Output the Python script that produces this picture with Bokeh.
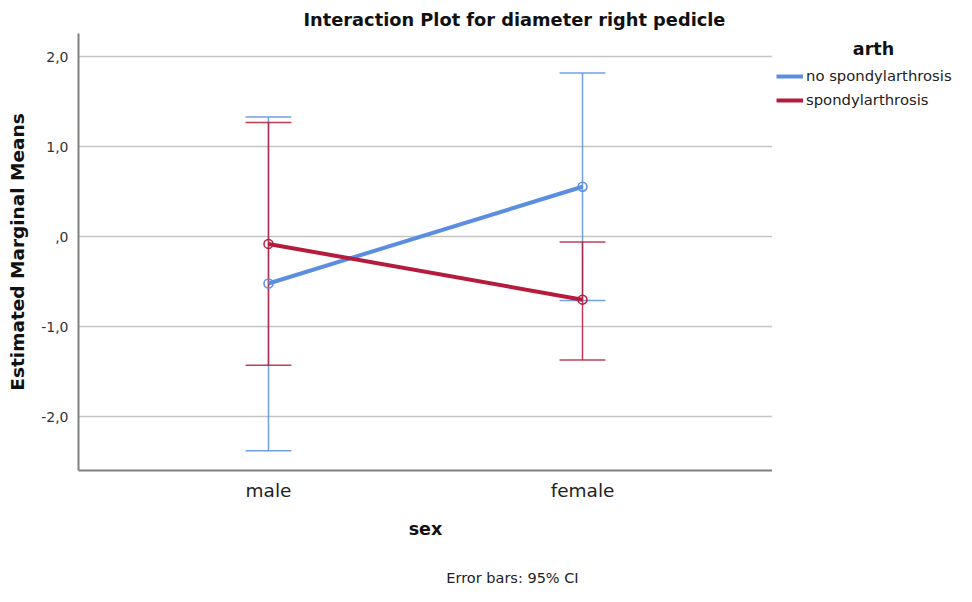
from bokeh.plotting import figure
from bokeh.layouts import row, column
from bokeh.models import Range1d, FixedTicker, Legend, LegendItem, Label
from bokeh.embed import file_html
from bokeh.resources import INLINE

sexes = ["male", "female"]
x_pos = [1, 2]
series = ["no spondylarthrosis", "spondylarthrosis"]
means_no = [-0.52, 0.556]
upper_no = [1.33, 1.82]
lower_no = [-2.38, -0.71]
means_sp = [-0.08, -0.70]
upper_sp = [1.27, -0.06]
lower_sp = [-1.43, -1.37]
y_ticks = [-2.0, -1.0, 0.0, 1.0, 2.0]
y_tick_labels = ["-2,0", "-1,0", ",0", "1,0", "2,0"]

BLUE = "#5b8ee0"
RED = "#b51b3c"
FONT = "DejaVu Sans"
H_MAIN = 556
H_FOOT = 30
W_MAIN = 772
W_LEG = 184
FRAME_BOTTOM = 470
NAN = float("nan")

p = figure(width=W_MAIN, height=H_MAIN, output_backend="svg", toolbar_location=None,
           x_range=Range1d(0.395, 2.605), y_range=Range1d(-2.6, 2.26),
           min_border_left=78, min_border_right=0, min_border_top=33,
           min_border_bottom=H_MAIN - FRAME_BOTTOM)
p.outline_line_color = None
p.background_fill_color = "white"
p.border_fill_color = "white"

p.title.text = "Interaction Plot for diameter right pedicle"
p.title.align = "left"
p.title.offset = 225
p.title.standoff = 8
p.title.text_font = FONT
p.title.text_font_size = "17.8px"
p.title.text_font_style = "bold"
p.title.text_color = "#111111"

p.xgrid.grid_line_color = None
p.ygrid.ticker = FixedTicker(ticks=y_ticks)
p.ygrid.grid_line_color = "#c4c4c4"
p.ygrid.grid_line_width = 1.5

p.yaxis.ticker = FixedTicker(ticks=y_ticks)
p.yaxis.major_label_overrides = {t: l for t, l in zip(y_ticks, y_tick_labels)}
p.xaxis.ticker = FixedTicker(ticks=x_pos)
p.xaxis.major_label_overrides = {x: s for x, s in zip(x_pos, sexes)}
for ax in (p.xaxis, p.yaxis):
    ax.axis_line_color = "#808080"
    ax.axis_line_width = 2
    ax.major_tick_line_color = None
    ax.minor_tick_line_color = None
    ax.major_tick_out = 0
    ax.major_tick_in = 0
    ax.minor_tick_out = 0
    ax.major_label_text_font = FONT
    ax.axis_label_text_font = FONT
    ax.axis_label_text_font_style = "bold"
    ax.axis_label_text_color = "#111111"
p.yaxis.major_label_text_font_size = "14px"
p.yaxis.major_label_text_color = "#333333"
p.yaxis.major_label_standoff = 10
p.xaxis.major_label_text_font_size = "18.5px"
p.xaxis.major_label_text_color = "#222222"
p.xaxis.major_label_standoff = 9
p.yaxis.axis_label = "Estimated Marginal Means"
p.yaxis.axis_label_text_font_size = "18.5px"
p.yaxis.axis_label_standoff = 10
p.xaxis.axis_label = "sex"
p.xaxis.axis_label_text_font_size = "17.5px"
p.xaxis.axis_label_standoff = 15

cap = 0.073
for means, up, lo, col in [(means_no, upper_no, lower_no, BLUE), (means_sp, upper_sp, lower_sp, RED)]:
    p.segment(x0=x_pos, x1=x_pos, y0=lo, y1=up, line_color=col, line_width=1.5, line_alpha=0.85)
    p.segment(x0=[x - cap for x in x_pos], x1=[x + cap for x in x_pos], y0=up, y1=up,
              line_color=col, line_width=1.5, line_alpha=0.85)
    p.segment(x0=[x - cap for x in x_pos], x1=[x + cap for x in x_pos], y0=lo, y1=lo,
              line_color=col, line_width=1.5, line_alpha=0.85)

p.line(x_pos, means_no, line_color=BLUE, line_width=4)
p.scatter(x_pos, means_no, marker="circle", size=9, fill_color=None, line_color=BLUE, line_width=1.5)
p.line(x_pos, means_sp, line_color=RED, line_width=4)
p.scatter(x_pos, means_sp, marker="circle", size=9, fill_color=None, line_color=RED, line_width=1.5)

# legend panel: separate figure whose frame is aligned with the main frame (top 33, bottom 470)
q = figure(width=W_LEG, height=H_MAIN, output_backend="svg", toolbar_location=None,
           x_axis_location=None, y_axis_location=None,
           x_range=Range1d(0, 1), y_range=Range1d(0, 1),
           min_border_left=0, min_border_right=0, min_border_top=0, min_border_bottom=0)
q.outline_line_color = None
q.grid.grid_line_color = None
q.background_fill_color = "white"
k_no = q.line(x=[NAN], y=[NAN], line_color=BLUE, line_width=4)
k_sp = q.line(x=[NAN], y=[NAN], line_color=RED, line_width=4)
legend = Legend(items=[LegendItem(label=series[0], renderers=[k_no]),
                       LegendItem(label=series[1], renderers=[k_sp])],
                location=(4, FRAME_BOTTOM - 108), border_line_color=None, background_fill_alpha=0,
                label_text_font=FONT, label_text_font_size="14.8px", label_text_color="#222222",
                label_height=16, glyph_width=27, glyph_height=16, spacing=7, padding=0, margin=0,
                label_standoff=3)
q.add_layout(legend, "center")
q.add_layout(Label(x=101, y=FRAME_BOTTOM - 48, x_units="screen", y_units="screen", text="arth",
                   text_font=FONT, text_font_size="17.5px", text_font_style="bold",
                   text_color="#111111", text_align="center", text_baseline="middle"))

# footer strip: frame spans the same columns as the main frame (78 .. 772)
f = figure(width=W_MAIN + W_LEG, height=H_FOOT, output_backend="svg", toolbar_location=None,
           x_axis_location=None, y_axis_location=None,
           x_range=Range1d(0, 1), y_range=Range1d(0, 1),
           min_border_left=78, min_border_right=W_LEG, min_border_top=0, min_border_bottom=0)
f.outline_line_color = None
f.grid.grid_line_color = None
f.background_fill_color = "white"
f.add_layout(Label(x=512 - 78, y=9, x_units="screen", y_units="screen", text="Error bars: 95% CI",
                   text_font=FONT, text_font_size="14.5px", text_color="#222222",
                   text_align="center", text_baseline="middle"))

layout = column(row(p, q, spacing=0), f, spacing=0)
open("out.html", "w").write(file_html(layout, INLINE))
